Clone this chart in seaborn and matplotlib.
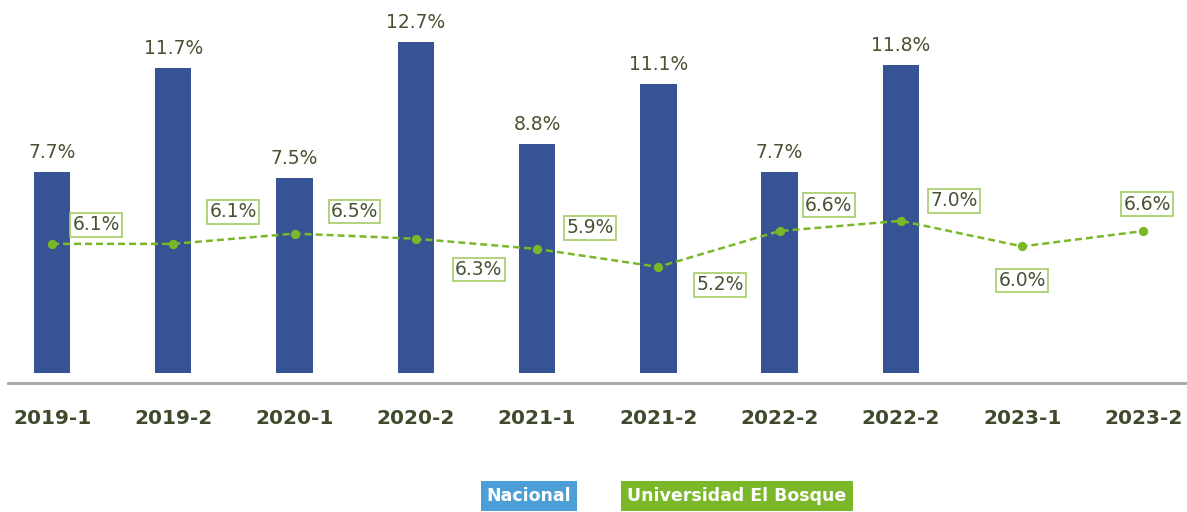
import matplotlib.pyplot as plt
import seaborn as sns
import numpy as np

periods = ["2019-1", "2019-2", "2020-1", "2020-2", "2021-1",
           "2021-2", "2022-2", "2022-2", "2023-1", "2023-2"]
nacional = [7.7, 11.7, 7.5, 12.7, 8.8, 11.1, 7.7, 11.8, np.nan, np.nan]
bosque = [6.1, 6.1, 6.5, 6.3, 5.9, 5.2, 6.6, 7.0, 6.0, 6.6]

# label offsets (pixels) for the green line labels
lab_off = [(44, 19), (60, 32), (60, 22), (63, -31), (53, 21),
           (62, -18), (49, 26), (53, 20), (0, -34), (4, 27)]

blue = "#365394"
green = "#7ab829"
txt = "#4a5233"

sns.set_theme(style="white")
plt.rcParams['font.family'] = ['DejaVu Sans']

fig = plt.figure(figsize=(11.87, 5.12), dpi=100)
W, H = 1187, 512
ax = fig.add_axes([8 / W, (H - 383) / H, (1187 - 8) / W, (383 - 10) / H])

x = np.arange(len(periods))
sns.barplot(x=x, y=nacional, color=blue, width=0.3, saturation=1, ax=ax,
            native_scale=True, linewidth=0)
ax.set_xlim(-0.363, 9.36)
ax.set_ylim(-10 / 26.06, 363 / 26.06)

for xi, v in zip(x, nacional):
    if np.isnan(v):
        continue
    ax.annotate(f"{v}%", (xi, v), xytext=(0, 10), textcoords="offset pixels",
                ha="center", va="bottom", fontsize=13.5, color=txt)

ax2 = ax.twinx()
ax2.set_ylim(17 / 25.6, 390 / 25.6)
sns.lineplot(x=x, y=bosque, color=green, lw=1.8, ax=ax2)
ax2.lines[0].set_dashes([2.8, 1.6])
ax2.scatter(x, bosque, s=45, color=green, zorder=3, linewidths=0)
for xi, v, (dx, dy) in zip(x, bosque, lab_off):
    ax2.annotate(f"{v}%", (xi, v), xytext=(dx, dy), textcoords="offset pixels",
                 ha="center", va="center", fontsize=13.5, color=txt,
                 bbox=dict(boxstyle="square,pad=0.12", fc="white",
                           ec="#a3cc66", lw=1.2))

for a in (ax, ax2):
    for s in ("top", "right", "left"):
        a.spines[s].set_visible(False)
    a.set_yticks([])
ax2.spines["bottom"].set_visible(False)
ax.spines["bottom"].set_color("#a6a6a6")
ax.spines["bottom"].set_linewidth(2)

ax.set_xticks(x)
ax.set_xticklabels(periods, fontsize=14.5, fontweight="bold", color="#3f4a2c")
ax.tick_params(axis="x", length=0, pad=19)

fig.text(529 / W, 1 - 496 / H, "Nacional", ha="center", va="center",
         fontsize=12.5, fontweight="bold", color="white",
         bbox=dict(boxstyle="square,pad=0.35", fc="#4b9fd6", ec="none"))
fig.text(737 / W, 1 - 496 / H, "Universidad El Bosque", ha="center",
         va="center", fontsize=12.5, fontweight="bold", color="white",
         bbox=dict(boxstyle="square,pad=0.35", fc=green, ec="none"))

fig.savefig("out.png", dpi=100)
